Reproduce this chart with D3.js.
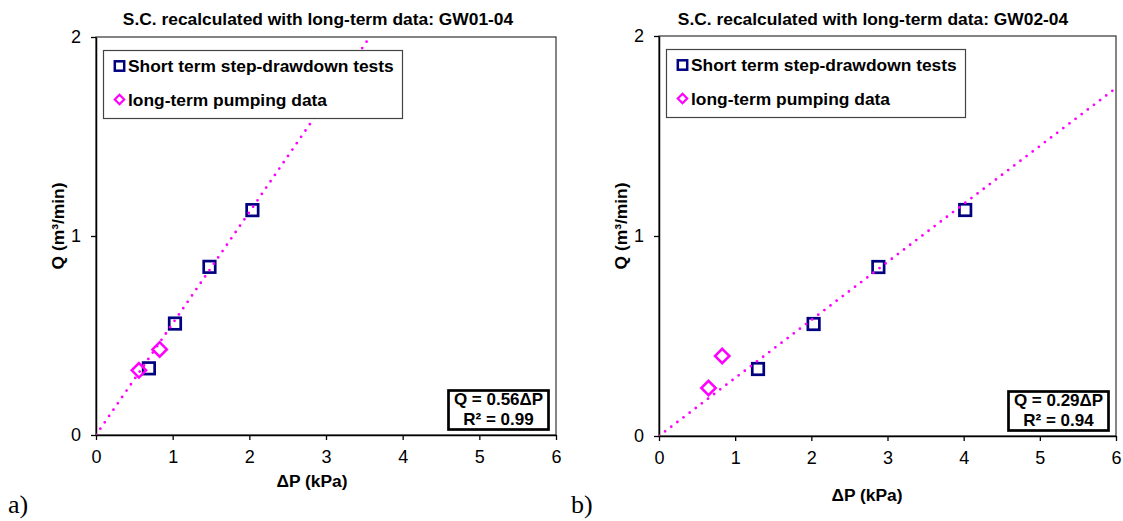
<!DOCTYPE html>
<html>
<head>
<meta charset="utf-8">
<script src="https://cdn.jsdelivr.net/npm/d3@7"></script>
<style>
  html, body { margin: 0; padding: 0; background: #fff; }
  svg { display: block; }
  text { font-family: "Liberation Sans", Arial, sans-serif; fill: #000; }
</style>
</head>
<body>
<svg id="fig" width="1123" height="521"></svg>
<script>
// Axis ticks shared by both panels
const xTicks = [0, 1, 2, 3, 4, 5, 6];
const yTicks = [0, 1, 2];

// GW01-04: short-term step-drawdown tests and long-term pumping data
const gw01ShortDP = [0.69, 1.03, 1.48, 2.04];
const gw01ShortQ  = [0.335, 0.56, 0.845, 1.13];
const gw01LongDP  = [0.56, 0.83];
const gw01LongQ   = [0.325, 0.43];

// GW02-04
const gw02ShortDP = [1.30, 2.03, 2.88, 4.02];
const gw02ShortQ  = [0.335, 0.56, 0.845, 1.13];
const gw02LongDP  = [0.65, 0.83];
const gw02LongQ   = [0.24, 0.40];

// Fitted specific capacity (through origin) and goodness of fit
const slopes = [0.56, 0.29];
const rSquared = [0.99, 0.94];
const wellNames = ["GW01-04", "GW02-04"];
const panelTags = ["a)", "b)"];

const NAVY = "#000080";
const MAGENTA = "#ff00ff";
const LABEL_SIZE = "17.4px";

const svg = d3.select("#fig");

const panels = [
  { name: wellNames[0], tag: panelTags[0], slope: slopes[0], r2: rSquared[0],
    sx: gw01ShortDP, sy: gw01ShortQ, lx: gw01LongDP, ly: gw01LongQ,
    left: 96, right: 556, top: 37, bottom: 435,
    titleX: 318, xLabelX: 312, xLabelY: 487, yLabelX: 58, tagX: 8 },
  { name: wellNames[1], tag: panelTags[1], slope: slopes[1], r2: rSquared[1],
    sx: gw02ShortDP, sy: gw02ShortQ, lx: gw02LongDP, ly: gw02LongQ,
    left: 659, right: 1116, top: 36, bottom: 436,
    titleX: 873, xLabelX: 867, xLabelY: 501, yLabelX: 621, tagX: 571 }
];

function drawPanel(p) {
  const g = svg.append("g");
  const x = d3.scaleLinear().domain([0, 6]).range([p.left, p.right]);
  const y = d3.scaleLinear().domain([0, 2]).range([p.bottom, p.top]);

  // Title
  g.append("text")
    .attr("x", p.titleX).attr("y", 24.5)
    .attr("text-anchor", "middle")
    .style("font-size", LABEL_SIZE).style("font-weight", "bold")
    .text("S.C. recalculated with long-term data: " + p.name);

  // Plot area frame
  g.append("rect")
    .attr("x", p.left).attr("y", p.top)
    .attr("width", p.right - p.left).attr("height", p.bottom - p.top)
    .attr("fill", "#fff").attr("stroke", "#333").attr("stroke-width", 1.2);

  // Axes
  const xAxis = d3.axisBottom(x).tickValues(xTicks).tickFormat(d3.format("d"))
    .tickSizeInner(5).tickSizeOuter(0).tickPadding(10);
  const gx = g.append("g").attr("transform", `translate(0,${p.bottom})`).call(xAxis);
  const yAxis = d3.axisLeft(y).tickValues(yTicks).tickFormat(d3.format("d"))
    .tickSizeInner(5).tickSizeOuter(0).tickPadding(10);
  const gy = g.append("g").attr("transform", `translate(${p.left},0)`).call(yAxis);
  [gx, gy].forEach(a => {
    a.select(".domain").attr("stroke", "#000").attr("stroke-width", 1.5);
    a.selectAll(".tick line").attr("stroke", "#000").attr("stroke-width", 1.3);
    a.selectAll(".tick text")
      .style("font-family", '"Liberation Sans", Arial, sans-serif')
      .style("font-size", "18px").attr("fill", "#000");
  });

  // Axis titles
  g.append("text")
    .attr("x", p.xLabelX).attr("y", p.xLabelY)
    .attr("text-anchor", "middle")
    .style("font-size", LABEL_SIZE).style("font-weight", "bold")
    .text("ΔP (kPa)");
  g.append("text")
    .attr("transform", `translate(${p.yLabelX + 6},226) rotate(-90)`)
    .attr("text-anchor", "middle")
    .style("font-size", LABEL_SIZE).style("font-weight", "bold")
    .text("Q (m³/min)");

  // Panel tag
  g.append("text")
    .attr("x", p.tagX).attr("y", 513)
    .style("font-family", '"Liberation Serif", "Times New Roman", serif')
    .style("font-size", "26px")
    .text(p.tag);

  const clipId = "clip-" + p.name;
  g.append("clipPath").attr("id", clipId)
    .append("rect")
    .attr("x", p.left).attr("y", p.top - 2)
    .attr("width", p.right - p.left).attr("height", p.bottom - p.top + 2);

  // Short-term test markers (hollow squares)
  const sq = 11.5;
  g.append("g").selectAll("rect")
    .data(d3.zip(p.sx, p.sy)).join("rect")
    .attr("x", d => x(d[0]) - sq / 2).attr("y", d => y(d[1]) - sq / 2)
    .attr("width", sq).attr("height", sq)
    .attr("fill", "none").attr("stroke", NAVY).attr("stroke-width", 2.7);

  // Long-term pumping markers (hollow diamonds)
  const dr = 7.2;
  const diamond = (cx, cy, r) => `M${cx},${cy - r}L${cx + r},${cy}L${cx},${cy + r}L${cx - r},${cy}Z`;
  g.append("g").selectAll("path")
    .data(d3.zip(p.lx, p.ly)).join("path")
    .attr("d", d => diamond(x(d[0]), y(d[1]), dr))
    .attr("fill", "none").attr("stroke", MAGENTA).attr("stroke-width", 2.5);

  // Trend line Q = slope * ΔP, clipped to the plot area
  const xEnd = Math.min(6, 2 / p.slope);
  const line = d3.line().x(d => x(d[0])).y(d => y(d[1]));
  g.append("path")
    .datum([[0, 0], [xEnd, p.slope * xEnd]])
    .attr("d", line)
    .attr("clip-path", `url(#${clipId})`)
    .attr("fill", "none").attr("stroke", MAGENTA).attr("stroke-width", 2.8)
    .attr("stroke-linecap", "round").attr("stroke-dasharray", "0,7.7");

  // Legend
  const lg = g.append("g");
  lg.append("rect")
    .attr("x", p.left + 7.5).attr("y", p.top + 13.5)
    .attr("width", 299).attr("height", 68)
    .attr("fill", "#fff").attr("stroke", "#444").attr("stroke-width", 1.2);
  const lx0 = p.left + 23.5;
  lg.append("rect")
    .attr("x", lx0 - 4.7).attr("y", p.top + 29 - 4.7)
    .attr("width", 9.4).attr("height", 9.4)
    .attr("fill", "none").attr("stroke", NAVY).attr("stroke-width", 2.5);
  lg.append("path")
    .attr("d", diamond(lx0, p.top + 62.5, 4.7))
    .attr("fill", "none").attr("stroke", MAGENTA).attr("stroke-width", 2.2);
  lg.append("text")
    .attr("x", p.left + 32).attr("y", p.top + 35)
    .style("font-size", LABEL_SIZE).style("font-weight", "bold")
    .text("Short term step-drawdown tests");
  lg.append("text")
    .attr("x", p.left + 32).attr("y", p.top + 68.5)
    .style("font-size", LABEL_SIZE).style("font-weight", "bold")
    .text("long-term pumping data");

  // Fit equation box
  const eb = g.append("g");
  eb.append("rect")
    .attr("x", p.right - 107.5).attr("y", p.bottom - 44.5)
    .attr("width", 100).attr("height", 39)
    .attr("fill", "#fff").attr("stroke", "#000").attr("stroke-width", 2.7);
  eb.append("text")
    .attr("x", p.right - 57.5).attr("y", p.bottom - 30)
    .attr("text-anchor", "middle")
    .style("font-size", "17px").style("font-weight", "bold")
    .text(`Q = ${p.slope.toFixed(2)}ΔP`);
  eb.append("text")
    .attr("x", p.right - 57.5).attr("y", p.bottom - 10.5)
    .attr("text-anchor", "middle")
    .style("font-size", "17px").style("font-weight", "bold")
    .text(`R² = ${p.r2.toFixed(2)}`);
}

panels.forEach(drawPanel);
</script>
</body>
</html>
